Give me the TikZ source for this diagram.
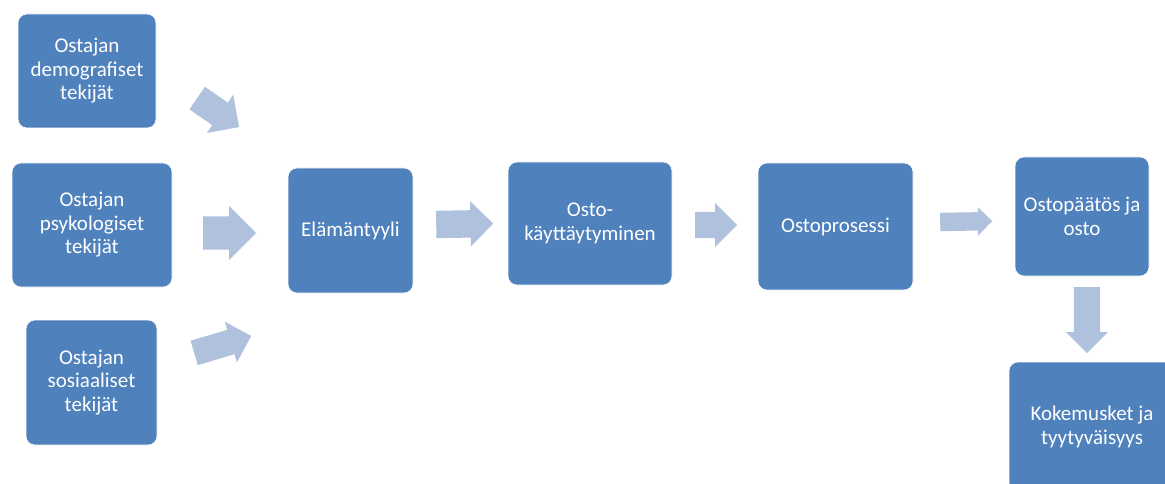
\documentclass[tikz,border=0pt]{standalone}
\usepackage{fontspec}
\setmainfont{Carlito}
\usetikzlibrary{shapes.arrows}
\definecolor{boxblue}{RGB}{79,129,189}
\definecolor{arrowblue}{RGB}{176,193,221}
\tikzset{
  stepbox/.style={rectangle, rounded corners=9pt, fill=boxblue, draw=white, line width=0.6pt,
    text=white, align=center, inner sep=0pt,
    font=\fontsize{21}{23.5}\selectfont},
  flowarrow/.style n args={3}{single arrow, fill=arrowblue, draw=none, inner xsep=0pt,
    inner ysep=#2/2, minimum height=#1, single arrow tip angle=90,
    single arrow head extend={(#3-#2)/2}, single arrow head indent=0pt, anchor=tail}
}
\begin{document}
\begin{tikzpicture}[x=1pt,y=-1pt]
  \useasboundingbox (0,0) rectangle (1165,484);
  \clip (0,0) rectangle (1165,484);
  % boxes
  \node[stepbox, minimum width=138pt, minimum height=114pt] (demo) at (87,71) {Ostajan\\demografiset\\tekijät};
  \node[stepbox, minimum width=160pt, minimum height=124pt] (psyk) at (92,225) {Ostajan\\psykologiset\\tekijät};
  \node[stepbox, minimum width=131pt, minimum height=125pt] (sosi) at (91.5,382.5) {Ostajan\\sosiaaliset\\tekijät};
  \node[stepbox, minimum width=125pt, minimum height=125pt] (elam) at (350.5,230.5) {Elämäntyyli};
  \node[stepbox, minimum width=164pt, minimum height=123pt] (kayt) at (590,223.5) {Osto-\\käyttäytyminen};
  \node[stepbox, minimum width=155pt, minimum height=127pt] (pros) at (835.5,226.5) {Ostoprosessi};
  \node[stepbox, minimum width=134pt, minimum height=119pt] (paat) at (1082,216.5) {Ostopäätös ja\\osto};
  \node[stepbox, minimum width=166pt, minimum height=130pt] (koke) at (1092,427) {Kokemusket ja\\tyytyväisyys};
  % block arrows between the stages, placed by their tails
  \node[flowarrow={51pt}{27pt}{46pt}, rotate=-34.6] (a1) at (197,98) {};
  \node[flowarrow={53pt}{33pt}{54pt}] (a2) at (203,233) {};
  \node[flowarrow={59.5pt}{25pt}{42pt}, rotate=16.6] (a3) at (194,353) {};
  \node[flowarrow={57pt}{27pt}{45pt}, rotate=1] (a4) at (436,224.5) {};
  \node[flowarrow={42pt}{26pt}{44pt}] (a5) at (695,225) {};
  \node[flowarrow={52pt}{18pt}{28pt}, rotate=1] (a6) at (940,222) {};
  \node[flowarrow={66pt}{26pt}{42pt}, rotate=-90] (a7) at (1087,287) {};
\end{tikzpicture}
\end{document}
